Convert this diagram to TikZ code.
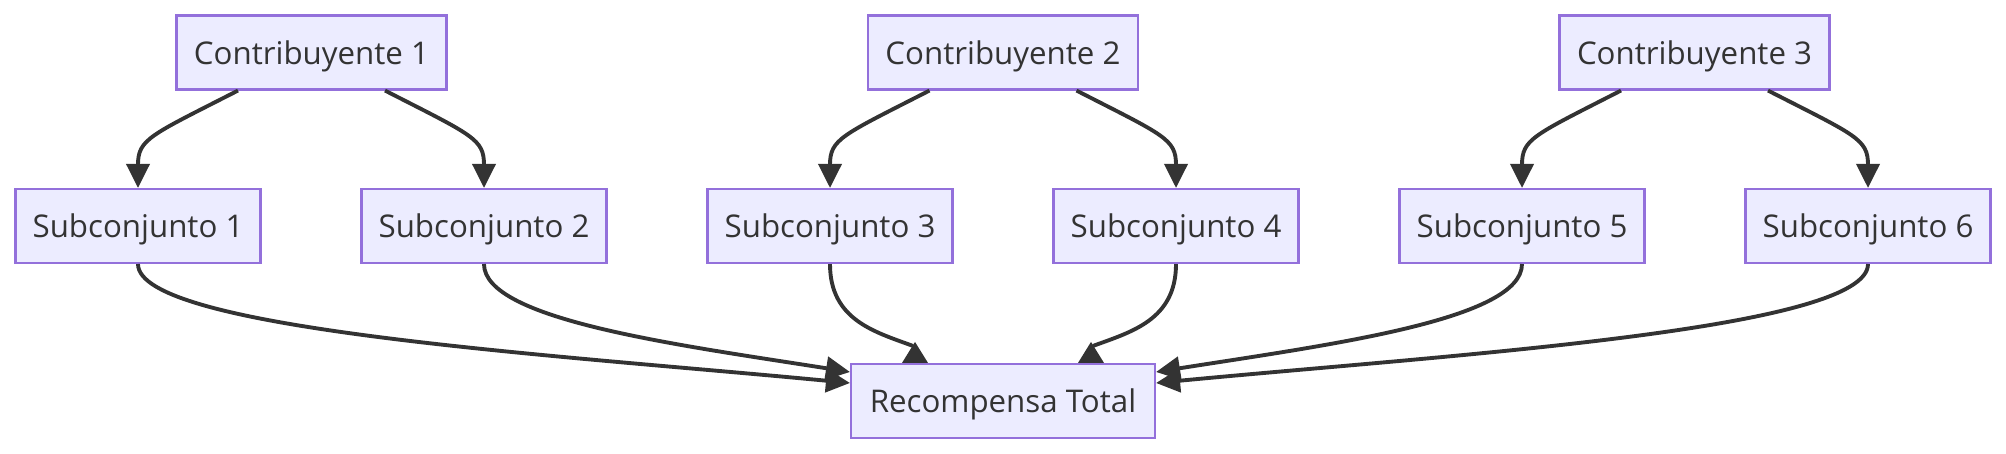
\documentclass[tikz,border=0pt]{standalone}
\usepackage{fontspec}
\setmainfont{Open Sans}
\usetikzlibrary{arrows.meta}
\definecolor{relleno}{HTML}{ECECFF}
\definecolor{borde}{HTML}{9370DB}
\definecolor{linea}{HTML}{333333}
\tikzset{
  caja/.style={draw=borde, fill=relleno, line width=0.6pt, minimum height=7.4mm,
    inner sep=0pt, text height=6.8pt, text depth=0pt, text=linea,
    font=\fontsize{8.9}{10.7}\selectfont},
  curva/.style={draw=linea, line width=1.1pt},
  flecha/.style={curva, -{Triangle[length=2.4mm,width=2.3mm]}}
}

\begin{document}
\begin{tikzpicture}
\useasboundingbox (0,0) rectangle (20.06,-4.54);

\node[caja, minimum width=2.70cm] (c1) at (3.115,-0.525) {Contribuyente 1};
\node[caja, minimum width=2.70cm] (c2) at (10.03,-0.525) {Contribuyente 2};
\node[caja, minimum width=2.70cm] (c3) at (16.945,-0.525) {Contribuyente 3};

\node[caja, minimum width=2.45cm] (s1) at (1.38,-2.26) {Subconjunto 1};
\node[caja, minimum width=2.45cm] (s2) at (4.84,-2.26) {Subconjunto 2};
\node[caja, minimum width=2.45cm] (s3) at (8.30,-2.26) {Subconjunto 3};
\node[caja, minimum width=2.45cm] (s4) at (11.76,-2.26) {Subconjunto 4};
\node[caja, minimum width=2.45cm] (s5) at (15.22,-2.26) {Subconjunto 5};
\node[caja, minimum width=2.45cm] (s6) at (18.68,-2.26) {Subconjunto 6};

\node[caja, minimum width=3.04cm] (rt) at (10.03,-4.01) {Recompensa Total};

\draw[flecha] ([xshift=-7.35mm]c1.south) .. controls +(-0.88,-0.45) and +(0,0.49) .. (s1.north);
\draw[flecha] ([xshift=7.35mm]c1.south) .. controls +(0.88,-0.45) and +(0,0.49) .. (s2.north);
\draw[flecha] ([xshift=-7.35mm]c2.south) .. controls +(-0.88,-0.45) and +(0,0.49) .. (s3.north);
\draw[flecha] ([xshift=7.35mm]c2.south) .. controls +(0.88,-0.45) and +(0,0.49) .. (s4.north);
\draw[flecha] ([xshift=-7.35mm]c3.south) .. controls +(-0.88,-0.45) and +(0,0.49) .. (s5.north);
\draw[flecha] ([xshift=7.35mm]c3.south) .. controls +(0.88,-0.45) and +(0,0.49) .. (s6.north);

\draw[flecha] (s1.south) .. controls +(0,-0.66) and +(-2.91,0.28) .. ([yshift=1.8mm]rt.west);
\draw[flecha] (s2.south) .. controls +(0,-0.56) and +(-1.71,0.27) .. ([yshift=2.9mm]rt.west);
\draw[curva] (s3.south) .. controls +(0,-0.56) and +(-0.38,0.14) .. ([xshift=-9mm,yshift=1.7mm]rt.north);
\fill[linea] ([xshift=-10.1mm]rt.north) -- ([xshift=-7.5mm]rt.north) -- ([xshift=-8.8mm,yshift=2.1mm]rt.north) -- cycle;
\draw[curva] (s4.south) .. controls +(0,-0.56) and +(0.38,0.14) .. ([xshift=9mm,yshift=1.7mm]rt.north);
\fill[linea] ([xshift=10.1mm]rt.north) -- ([xshift=7.5mm]rt.north) -- ([xshift=8.8mm,yshift=2.1mm]rt.north) -- cycle;
\draw[flecha] (s5.south) .. controls +(0,-0.56) and +(1.71,0.27) .. ([yshift=2.9mm]rt.east);
\draw[flecha] (s6.south) .. controls +(0,-0.66) and +(2.91,0.28) .. ([yshift=1.8mm]rt.east);
\end{tikzpicture}
\end{document}
